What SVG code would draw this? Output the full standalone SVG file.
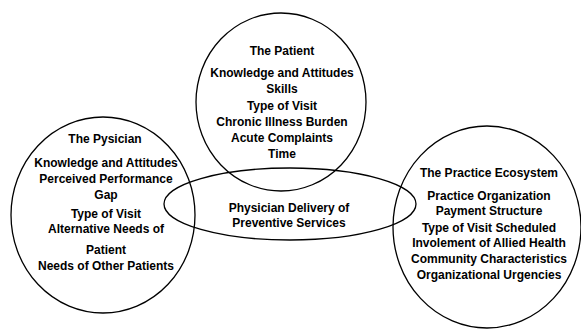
<svg xmlns="http://www.w3.org/2000/svg" width="581" height="330" viewBox="0 0 581 330">
<style>
.shape{fill:none;stroke:#000;stroke-width:1.3}
text{font-family:"Liberation Sans",Arial,sans-serif;font-weight:bold;font-size:12px;fill:#000;text-anchor:middle}
</style>
<rect width="581" height="330" fill="#fff"/>
<g id="connectors"></g>
<g id="patient">
<ellipse class="shape" cx="281" cy="102" rx="85" ry="89"/>
<text x="282" y="55">The Patient</text>
<text x="282" y="77">Knowledge and Attitudes</text>
<text x="282" y="93">Skills</text>
<text x="282" y="110">Type of Visit</text>
<text x="282" y="126">Chronic Illness Burden</text>
<text x="282" y="142">Acute Complaints</text>
<text x="282" y="158">Time</text>
</g>
<g id="physician">
<ellipse class="shape" cx="103" cy="215" rx="92" ry="98"/>
<text x="105" y="143">The Pysician</text>
<text x="106" y="167">Knowledge and Attitudes</text>
<text x="106" y="183">Perceived Performance</text>
<text x="106" y="199">Gap</text>
<text x="106" y="218">Type of Visit</text>
<text x="106" y="233">Alternative Needs of</text>
<text x="106" y="254">Patient</text>
<text x="106" y="270">Needs of Other Patients</text>
</g>
<g id="ecosystem">
<ellipse class="shape" cx="487" cy="227" rx="94" ry="101"/>
<text x="489" y="177">The Practice Ecosystem</text>
<text x="489" y="200">Practice Organization</text>
<text x="489" y="215">Payment Structure</text>
<text x="489" y="232">Type of Visit Scheduled</text>
<text x="489" y="247">Involement of Allied Health</text>
<text x="489" y="263">Community Characteristics</text>
<text x="489" y="279">Organizational Urgencies</text>
</g>
<g id="delivery">
<ellipse class="shape" cx="290" cy="204" rx="126" ry="36"/>
<text x="289" y="212">Physician Delivery of</text>
<text x="289" y="227">Preventive Services</text>
</g>
</svg>
